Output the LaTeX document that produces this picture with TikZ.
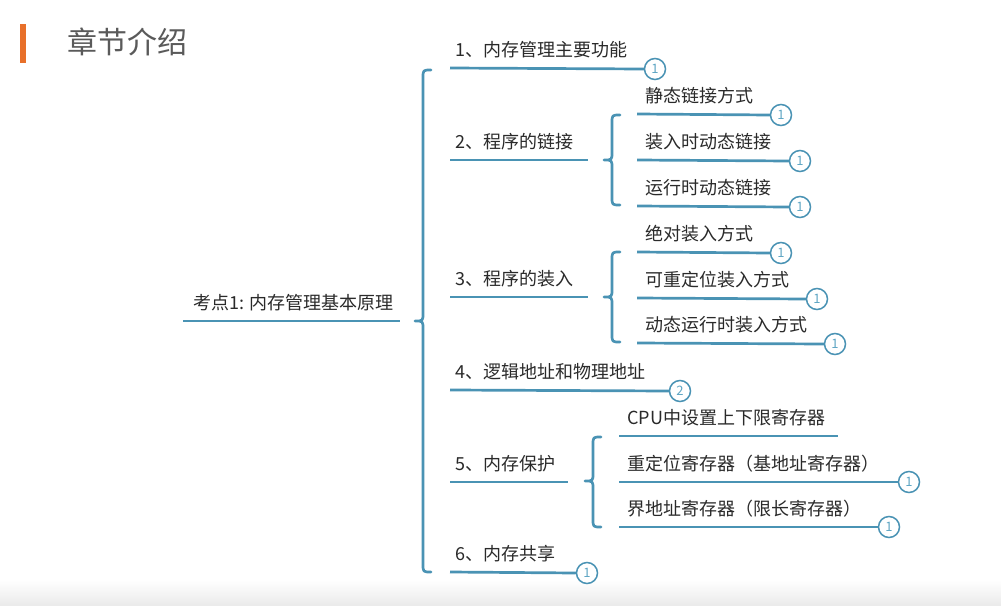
\documentclass[tikz,border=0pt]{standalone}
\usepackage{fontspec}
\setmainfont{Noto Sans CJK SC}
\definecolor{lnc}{HTML}{4A93B4}
\definecolor{bdg}{HTML}{5FA6C4}
\definecolor{txt}{HTML}{2A2A2A}
\definecolor{ttl}{HTML}{5A5A5A}
\definecolor{org}{HTML}{E8702A}
\begin{document}
\begin{tikzpicture}[x=1pt,y=-1pt,
  lbl/.style={anchor=base west, inner sep=0pt, font=\fontsize{18}{18}\selectfont, text=txt},
  uline/.style={draw=lnc, line width=2.7pt},
  badge/.style={circle, draw=lnc, line width=1.5pt, fill=white, minimum size=21pt, inner sep=0pt, font=\fontsize{13}{13}\selectfont, text=bdg},
  bracepath/.style={draw=lnc, line width=2.7pt, line cap=round, line join=round}]
\useasboundingbox (0,0) rectangle (1001,605);
\fill[white] (0,0) rectangle (1001,605);
\shade[top color=white, bottom color=black!8] (0,580) rectangle (1001,605);
% title
\fill[org] (20,24) rectangle (26,63);
\node[anchor=base west, inner sep=0pt, font=\fontsize{30}{30}\selectfont, text=ttl] (title) at (67,53) {章节介绍};
% root
\node[lbl] (root) at (193,309) {考点1: 内存管理基本原理};
\coordinate (rs) at (183,321); \coordinate (re) at (400,321);
\draw[uline] (rs) -- (re);
% main brace
\coordinate (mb) at (415,321);
\draw[bracepath] (431,70) .. controls (423,70) .. (423,78) -- (423,313) .. controls (423,321) .. (mb) .. controls (423,321) .. (423,329) -- (423,564) .. controls (423,572) .. (431,572);
% level 1
\node[lbl] (t1) at (455,56) {1、内存管理主要功能};
\coordinate (u1) at (450,68); \node[badge] (b1) at (655,69) {1};
\draw[uline] (u1) -- (b1.west);

\node[lbl] (t2) at (455,148) {2、程序的链接};
\coordinate (u2) at (450,160); \coordinate (e2) at (588,160);
\draw[uline] (u2) -- (e2);

\node[lbl] (t3) at (455,285) {3、程序的装入};
\coordinate (u3) at (450,297); \coordinate (e3) at (588,297);
\draw[uline] (u3) -- (e3);

\node[lbl] (t4) at (455,378) {4、逻辑地址和物理地址};
\coordinate (u4) at (450,390); \node[badge] (b4) at (680,391) {2};
\draw[uline] (u4) -- (b4.west);

\node[lbl] (t5) at (455,470) {5、内存保护};
\coordinate (u5) at (450,482); \coordinate (e5) at (568,482);
\draw[uline] (u5) -- (e5);

\node[lbl] (t6) at (455,560) {6、内存共享};
\coordinate (u6) at (450,572); \node[badge] (b6) at (587,573) {1};
\draw[uline] (u6) -- (b6.west);

% sub brace 2
\coordinate (sb2) at (604,160);
\draw[bracepath] (620,115) .. controls (612,115) .. (612,123) -- (612,152) .. controls (612,160) .. (sb2) .. controls (612,160) .. (612,168) -- (612,197) .. controls (612,205) .. (620,205);
\node[lbl] (t21) at (645,102) {静态链接方式};
\coordinate (u21) at (637,114); \node[badge] (b21) at (781,115) {1};
\draw[uline] (u21) -- (b21.west);
\node[lbl] (t22) at (645,148) {装入时动态链接};
\coordinate (u22) at (637,160); \node[badge] (b22) at (800,161) {1};
\draw[uline] (u22) -- (b22.west);
\node[lbl] (t23) at (645,194) {运行时动态链接};
\coordinate (u23) at (637,206); \node[badge] (b23) at (800,207) {1};
\draw[uline] (u23) -- (b23.west);

% sub brace 3
\coordinate (sb3) at (604,297);
\draw[bracepath] (620,252) .. controls (612,252) .. (612,260) -- (612,289) .. controls (612,297) .. (sb3) .. controls (612,297) .. (612,305) -- (612,334) .. controls (612,342) .. (620,342);
\node[lbl] (t31) at (645,240) {绝对装入方式};
\coordinate (u31) at (637,252); \node[badge] (b31) at (781,253) {1};
\draw[uline] (u31) -- (b31.west);
\node[lbl] (t32) at (645,286) {可重定位装入方式};
\coordinate (u32) at (637,298); \node[badge] (b32) at (817,299) {1};
\draw[uline] (u32) -- (b32.west);
\node[lbl] (t33) at (645,331) {动态运行时装入方式};
\coordinate (u33) at (637,343); \node[badge] (b33) at (835,344) {1};
\draw[uline] (u33) -- (b33.west);

% sub brace 5
\coordinate (sb5) at (585,481);
\draw[bracepath] (601,437) .. controls (593,437) .. (593,445) -- (593,473) .. controls (593,481) .. (sb5) .. controls (593,481) .. (593,489) -- (593,519) .. controls (593,527) .. (601,527);
\node[lbl] (t51) at (627,424) {CPU中设置上下限寄存器};
\coordinate (u51) at (619,436); \coordinate (e51) at (838,436);
\draw[uline] (u51) -- (e51);
\node[lbl] (t52) at (627,470) {重定位寄存器（基地址寄存器）};
\coordinate (u52) at (619,482); \node[badge] (b52) at (909,482) {1};
\draw[uline] (u52) -- (b52.west);
\node[lbl] (t53) at (627,515) {界地址寄存器（限长寄存器）};
\coordinate (u53) at (619,527); \node[badge] (b53) at (889,527) {1};
\draw[uline] (u53) -- (b53.west);
\end{tikzpicture}
\end{document}
